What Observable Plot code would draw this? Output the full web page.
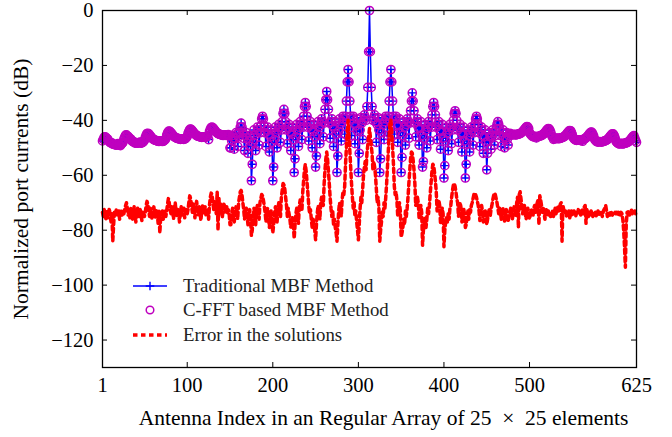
<!DOCTYPE html>
<html><head><meta charset="utf-8">
<script src="https://cdn.jsdelivr.net/npm/d3@7"></script>
<script src="https://cdn.jsdelivr.net/npm/@observablehq/plot@0.6"></script>
<style>
body{margin:0;background:#fff;}
#wrap{position:relative;width:672px;height:437px;}
#legend{position:absolute;left:0;top:0;pointer-events:none;}
</style></head><body><div id="wrap"></div>
<script>
// Normalized port currents (dB), antenna index 1..625 (25 values per line = one array row)
const traditionalMBF = [
-47.5,-46.9,-46.1,-46.0,-46.2,-46.6,-46.8,-47.4,-47.8,-48.1,-48.3,-48.2,-48.6,-48.7,-48.8,-48.9,-49.0,-48.9,-48.5,-48.9,-49.0,-49.2,-48.7,-48.4,-48.0,
-46.8,-46.0,-45.4,-45.3,-45.8,-45.9,-46.3,-46.7,-46.8,-47.4,-47.6,-47.8,-47.9,-48.3,-48.1,-48.2,-48.3,-48.2,-48.1,-47.9,-48.3,-48.2,-48.0,-47.7,-47.3,
-46.2,-45.4,-44.8,-44.7,-44.9,-45.3,-45.7,-46.1,-46.5,-46.8,-47.0,-47.2,-47.3,-47.4,-47.5,-47.6,-47.7,-47.6,-47.5,-47.6,-47.7,-47.6,-47.4,-47.1,-46.7,
-45.4,-44.6,-44.0,-43.9,-44.1,-44.5,-44.9,-45.3,-45.7,-46.0,-46.2,-46.4,-46.5,-46.6,-46.7,-46.8,-46.9,-46.8,-46.7,-46.8,-46.9,-46.8,-46.6,-46.3,-45.9,
-44.7,-43.9,-43.3,-43.2,-43.4,-43.8,-44.2,-44.6,-45.0,-45.3,-45.5,-45.7,-45.8,-45.9,-46.0,-46.1,-46.2,-46.1,-46.0,-46.1,-46.2,-46.1,-45.9,-45.6,-47.0,
-44.0,-43.2,-42.6,-42.5,-42.7,-43.1,-43.5,-43.9,-44.3,-44.6,-44.8,-45.0,-45.1,-45.2,-45.3,-45.4,-45.5,-45.4,-45.3,-45.4,-45.5,-45.4,-45.2,-45.5,-50.0,
-50,-47.5,-45.5,-46.5,-50.5,-46.5,-44.5,-45,-49.5,-46,-44.5,-42.5,-41,-42.5,-44.5,-46.5,-51,-45.5,-44.5,-46.5,-52,-47.5,-45.5,-49.5,-62,
-56,-48,-43.5,-45.5,-51,-44.5,-42.5,-43.5,-49,-44.5,-42,-39.5,-38.5,-39.5,-42,-44.5,-49.5,-43.5,-42.5,-45,-51.5,-46,-43.5,-48,-62,
-57,-47,-42.5,-44.5,-50,-43.5,-41.5,-42.5,-48,-43.5,-40.5,-37.5,-36,-37.5,-40.5,-43.5,-48.5,-42.5,-41.5,-44,-51,-45,-42.5,-47,-59,
-54,-46,-41.5,-43.5,-49.5,-42.5,-40.5,-41.5,-47,-42.5,-38.5,-35,-33.5,-35,-38.5,-42.5,-47.5,-41.5,-40.5,-43,-50,-44,-41.5,-46,-57,
-53,-45,-40.5,-42.5,-48.5,-41.5,-39.5,-40.5,-46,-41,-36,-32.5,-29.5,-32.5,-36,-41,-46.5,-40.5,-39.5,-42,-49.5,-43,-40.5,-45,-59,
-53,-44,-39.5,-41.5,-47.5,-40.5,-38.5,-39.5,-45,-38.5,-33,-26,-21.5,-26,-33,-38.5,-45.5,-39.5,-38.5,-41,-48.5,-42,-39.5,-44,-59,
-52,-43.5,-39,-41,-47,-40,-38,-39,-40,-35,-28,-15,0,-15,-28,-35,-40,-39,-38,-40.5,-48,-41.5,-39,-43.5,-59,
-54,-44.5,-39.5,-41.5,-47,-40.5,-38.5,-39.5,-45.5,-38.5,-33,-26,-21.5,-26,-33,-38.5,-45,-39.5,-38.5,-41.5,-48,-42,-39.5,-44.5,-59,
-53.5,-45.5,-40.5,-42.5,-49,-41.5,-39.5,-40.5,-46.5,-41,-36.5,-33,-30,-33,-36.5,-41,-46,-40.5,-39.5,-42.5,-49,-43,-40.5,-45.5,-57,
-55,-46.5,-41.5,-43.5,-50,-42.5,-40.5,-41.5,-47.5,-42.5,-38,-35,-33.5,-35,-38,-42.5,-47,-41.5,-40.5,-43.5,-50.5,-44,-41.5,-46.5,-61,
-56.5,-47.5,-42.5,-44.5,-51,-43.5,-41.5,-42.5,-48.5,-43.5,-40,-37.5,-36.5,-37.5,-40,-43.5,-48,-42.5,-41.5,-44.5,-51.5,-45,-42.5,-47.5,-61,
-56,-48.5,-43.5,-45.5,-51.5,-44.5,-42.5,-43.5,-49,-44.5,-41.5,-39.5,-38.5,-39.5,-41.5,-44.5,-49.5,-43.5,-42.5,-45.5,-52,-46,-43.5,-48,-58,
-52,-47.5,-44.5,-46,-50.5,-45.5,-43.5,-44.5,-49,-45.5,-43,-41.5,-40.5,-41.5,-43,-45.5,-49.5,-44.5,-43.5,-46,-50,-46.5,-44.5,-47,-49,
-45.5,-44.7,-45.0,-45.2,-45.3,-45.2,-45.1,-45.2,-45.3,-45.2,-45.1,-45.0,-44.9,-44.8,-44.6,-44.4,-44.1,-43.7,-43.3,-42.9,-42.5,-42.3,-42.4,-43.0,-44.5,
-45.0,-45.4,-45.7,-45.9,-46.0,-45.9,-45.8,-46.4,-46.0,-45.9,-45.8,-45.7,-45.6,-45.5,-45.3,-45.1,-44.8,-44.4,-44.0,-43.6,-43.2,-43.0,-43.1,-43.7,-44.5,
-45.7,-46.1,-46.9,-46.6,-46.7,-46.6,-46.5,-46.6,-46.7,-46.6,-46.5,-46.4,-46.3,-46.2,-46.0,-45.8,-45.5,-45.1,-44.7,-44.3,-43.9,-43.7,-43.8,-44.4,-45.2,
-46.3,-46.7,-47.0,-47.2,-47.3,-47.2,-47.1,-47.2,-47.3,-47.2,-47.1,-47.6,-46.9,-46.8,-46.6,-46.4,-46.1,-45.7,-45.3,-44.9,-44.5,-44.3,-44.4,-45.0,-45.8,
-46.9,-47.3,-47.6,-47.8,-47.9,-47.8,-47.7,-47.8,-47.9,-47.8,-47.7,-47.6,-47.5,-47.4,-47.2,-47.0,-46.7,-46.3,-45.9,-45.5,-45.1,-44.9,-45.0,-45.6,-46.4,
-47.6,-48.0,-48.3,-48.5,-48.6,-48.5,-48.4,-48.5,-48.6,-48.5,-48.4,-48.3,-48.2,-48.1,-47.9,-47.7,-47.4,-47.0,-46.6,-46.2,-45.8,-45.6,-46.5,-47.3,-48.0
];
// C-FFT based MBF results coincide with the traditional ones at the plotted scale
const cfftMBF = traditionalMBF;
const errorSolutions = [
-73.5,-75,-72.5,-74,-76,-73,-75.5,-74,-72,-75,-77,-74,-84,-78,-73,-74.5,-72.5,-75,-74,-73,-76,-74,-72.5,-74.5,-73.5,
-74,-72.5,-71,-70,-72,-74.5,-73,-75.5,-72,-74,-76,-73.5,-71.5,-74,-77,-73,-72,-74.5,-75,-72.5,-74,-76.5,-73,-74.5,-75,
-73.5,-71,-69.5,-70.5,-73,-75,-72,-74.5,-76,-73,-71.5,-74,-75.5,-72.5,-74,-77.5,-73,-81,-75,-74,-73,-76,-74.5,-73,-75,
-73,-70.5,-68.5,-70,-72.5,-74,-71.5,-73,-76,-72,-70,-73.5,-75,-72,-74,-77,-73.5,-71.5,-74.5,-73,-72,-75.5,-74,-72.5,-74,
-72.5,-69.5,-67.5,-68.5,-71,-73.5,-70.5,-72.5,-75.5,-71.5,-69.5,-72.5,-74.5,-71.5,-73.5,-76.5,-72.5,-71,-74,-72.5,-71.5,-75,-73.5,-72,-76,
-71,-68,-66.5,-67,-70,-72.5,-69.5,-72,-74,-66,-80,-68,-74,-70.5,-72.5,-75.5,-72,-70,-73.5,-72,-71,-74,-72.5,-74,-78,
-78,-74,-72,-75,-77,-73,-71.5,-73,-76,-70,-68,-66,-65.5,-67,-70,-72.5,-76,-73,-72,-75,-78,-74,-72.5,-76,-82,
-80,-75,-72,-74,-78,-72.5,-71,-72.5,-76,-70,-68.5,-67,-67.5,-69,-71,-73.5,-77,-73,-72,-75,-79,-74.5,-73,-77,-81,
-78,-74,-71.5,-73,-77,-72,-70,-71.5,-75,-68,-65.5,-63,-63.5,-65,-68,-71,-75,-72,-74,-76,-79,-77,-75.5,-78,-83,
-78,-74,-72,-74,-77.5,-71,-69,-70.5,-73,-66,-62,-58,-56,-58.5,-62.5,-66.5,-71,-74,-72.5,-76,-79,-75.5,-78,-80,-83.5,
-78,-73.5,-71,-73,-76,-70,-68,-69.5,-71,-63,-58,-54,-51.5,-54,-58.5,-63,-68,-72,-75,-73,-78,-76,-79,-81,-84,
-78,-73,-70,-72,-75,-69,-66,-67,-64,-56,-50,-44,-40,-45,-51,-57,-63,-68,-72,-70,-75,-73,-77,-80,-83.5,
-78,-72,-68,-70,-65,-60,-57,-55,-58,-52,-49,-46,-43,-46,-49,-52,-58,-55,-57,-60,-65,-70,-68,-72,-84,
-80,-77,-73,-75,-70,-72,-68,-63,-57,-51,-45,-41,-40,-44,-50,-56,-64,-67,-66,-69,-75,-72,-70,-73,-82.5,
-81,-79,-76,-78,-73,-75,-72,-68,-63,-58.5,-54,-51.5,-52,-54.5,-58,-63,-71,-69.5,-68,-70,-76,-73,-71,-73.5,-85.5,
-80,-78,-75.5,-79,-76,-72,-74,-71,-66.5,-62.5,-58.5,-56,-56.5,-59,-62,-66,-73,-70.5,-69,-71,-77.5,-74,-72,-74,-86,
-80,-77,-75.5,-77,-74,-76,-72,-71,-68,-65.5,-63.5,-63,-64,-66,-68.5,-70,-75,-71.5,-70,-72,-77,-73,-72,-74,-79,
-78,-75,-73,-76,-72,-73.5,-71,-70,-68.5,-67,-66.5,-67,-68,-69.5,-71,-73,-76.5,-72.5,-71,-73,-77,-73.5,-72.5,-74.5,-78,
-76,-74,-72,-75,-72.5,-71,-69,-67.5,-66.5,-67,-68.5,-70,-72,-74,-72,-73.5,-76,-73,-72,-74.5,-77,-74,-72.5,-75,-77,
-75,-73.5,-72,-74,-76,-73,-71.5,-73,-75,-70,-68,-79,-67,-66,-68.5,-71,-74,-72.5,-71,-74,-76,-73,-72,-74.5,-76,
-74,-72.5,-73.5,-75,-72,-71,-73.5,-72,-70,-69,-78,-67.5,-69,-71,-73.5,-72,-74,-76,-73,-72,-74.5,-73,-75,-74,-75.5,
-74,-73,-75,-73.5,-72,-74,-72.5,-71.5,-73,-72,-70.5,-70,-84,-71,-72.5,-74,-73,-75,-73.5,-74.5,-73,-75.5,-74,-73,-74.5,
-74,-73,-74.5,-75,-73.5,-74,-72.5,-74,-73,-75,-73.5,-72.5,-74,-71.5,-71,-77.5,-72.5,-74,-75,-73.5,-74.5,-73,-74,-75,-73.5,
-74,-73.5,-75,-74,-73,-74.5,-73.5,-74,-73,-75,-73.5,-72.5,-72,-71,-73,-75,-74,-73.5,-74.5,-73,-74,-74.5,-73.5,-74,-73.5,
-74,-73.5,-74.5,-73.5,-74,-75,-73.5,-74,-76,-80,-86,-93.5,-78,-73.5,-74,-73,-74.5,-73.5,-72.5,-74,-73.5,-74,-73,-74,-73.5
];
const xTicks = [1, 100, 200, 300, 400, 500, 625];
const yTicks = [0, -20, -40, -60, -80, -100, -120];
const seriesNames = ["Traditional MBF Method", "C-FFT based MBF Method", "Error in the solutions"];
const xLabel = "Antenna Index in an Regular Array of 25 \u00A0×\u00A0 25 elements";
const yLabel = "Normalized port currents (dB)";

const antennaIndex = d3.range(1, traditionalMBF.length + 1);
const table = antennaIndex.map((i, k) => ({i, trad: traditionalMBF[k], cfft: cfftMBF[k], err: errorSolutions[k]}));

const plusSymbol = {draw(ctx, size) { const r = Math.sqrt(size / Math.PI); ctx.moveTo(-r, 0); ctx.lineTo(r, 0); ctx.moveTo(0, -r); ctx.lineTo(0, r); }};

const W = 672, H = 437, mL = 102, mR = 36, mT = 10, mB = 70;
const fw = W - mL - mR, fh = H - mT - mB;
const FONT = '"Liberation Serif", "Times New Roman", serif';

const chart = Plot.plot({
  width: W, height: H, marginLeft: mL, marginRight: mR, marginTop: mT, marginBottom: mB,
  style: {fontFamily: FONT, fontSize: "20px", background: "white", color: "black", overflow: "visible"},
  x: {domain: [1, 625]},
  y: {domain: [-130, 0]},
  marks: [
    Plot.line(table, {x: "i", y: "trad", stroke: "#0000ff", strokeWidth: 1.5}),
    Plot.dot(table, {x: "i", y: "trad", symbol: plusSymbol, r: 4.3, stroke: "#0000ff", fill: "none", strokeWidth: 1.4}),
    Plot.dot(table, {x: "i", y: "cfft", symbol: "circle", r: 4.1, stroke: "#bf00bf", fill: "none", strokeWidth: 1.5}),
    Plot.line(table, {x: "i", y: "err", stroke: "#ff0000", strokeWidth: 3.5, strokeDasharray: "4.5,3.5"}),
    Plot.frame({stroke: "black", strokeWidth: 1.3}),
    Plot.axisX(xTicks, {tickSize: 0, tickPadding: 10, fontSize: 20.5, label: null}),
    Plot.axisY(yTicks, {tickSize: 0, tickPadding: 9, fontSize: 20.5, label: null}),
    Plot.tickX(xTicks, {x: d => d, insetTop: fh - 5, stroke: "black"}),
    Plot.tickX(xTicks, {x: d => d, insetBottom: fh - 5, stroke: "black"}),
    Plot.tickY(yTicks, {y: d => d, insetRight: fw - 5, stroke: "black"}),
    Plot.tickY(yTicks, {y: d => d, insetLeft: fw - 5, stroke: "black"}),
    Plot.text([xLabel], {frameAnchor: "bottom", dy: 57, dx: 14, fontSize: 21.5, textAnchor: "middle"}),
    Plot.text([yLabel], {frameAnchor: "left", rotate: -90, dx: -81, fontSize: 21.5, textAnchor: "middle"})
  ]
});
const wrap = document.getElementById("wrap");
wrap.appendChild(chart);

// Legend (inside the plot box, lower left)
const lg = d3.select(wrap).append("svg").attr("id", "legend").attr("width", W).attr("height", H)
  .style("font-family", FONT).style("font-size", "18.8px");
const lx0 = 133, lx1 = 167, ltx = 183, ly = [286, 310, 335];
lg.append("line").attr("x1", lx0).attr("x2", lx1).attr("y1", ly[0]).attr("y2", ly[0]).attr("stroke", "#0000ff").attr("stroke-width", 1.5);
lg.append("path").attr("d", `M${(lx0+lx1)/2-4.3},${ly[0]}h8.6M${(lx0+lx1)/2},${ly[0]-4.3}v8.6`).attr("stroke", "#0000ff").attr("stroke-width", 1.4);
lg.append("circle").attr("cx", (lx0+lx1)/2).attr("cy", ly[1]).attr("r", 3.8).attr("fill", "none").attr("stroke", "#bf00bf").attr("stroke-width", 1.5);
lg.append("line").attr("x1", lx0).attr("x2", lx1).attr("y1", ly[2]).attr("y2", ly[2]).attr("stroke", "#ff0000").attr("stroke-width", 3.5).attr("stroke-dasharray", "4.5,3.5");
seriesNames.forEach((s, k) => lg.append("text").attr("x", ltx).attr("y", ly[k]).attr("dy", "0.32em").attr("fill", "#222").text(s));
</script></body></html>
